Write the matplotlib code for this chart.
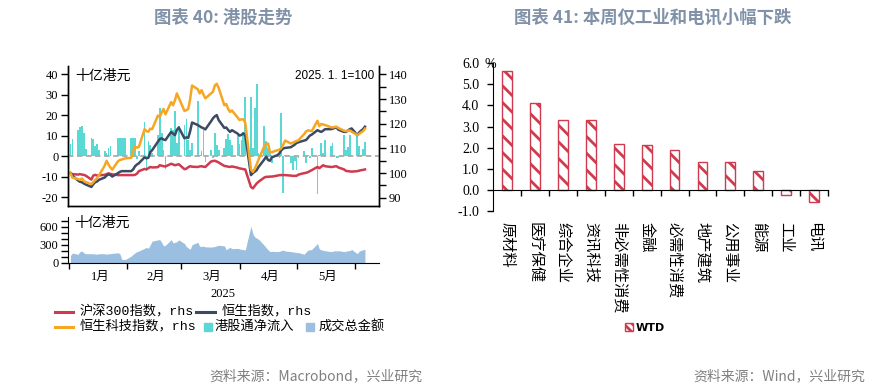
import matplotlib
matplotlib.use('Agg')
import matplotlib.pyplot as plt
import matplotlib.dates as mdates
from matplotlib.lines import Line2D
from matplotlib.patches import Rectangle, Patch
import pandas as pd

plt.rcParams['font.family'] = ['Liberation Serif', 'Noto Sans CJK SC']
plt.rcParams['axes.unicode_minus'] = False
plt.rcParams['hatch.linewidth'] = 2.0

RED = '#cf3a4f'
NAVY = '#3c4a64'
ORANGE = '#f5a623'
CYAN = '#5ad9d4'
AREA = '#9bbfe0'
TITLE_C = '#8091a8'
CJK = ['Noto Sans CJK SC', 'DejaVu Sans']
MONO_CJK = ['Liberation Mono', 'Noto Sans CJK SC']

# ---------------- data: 港股走势 ----------------
dates = pd.bdate_range('2025-01-02', '2025-06-06')

hs300 = [100.0, 99.6, 99.4, 99.6, 99.4, 99.3, 99.0, 97.4, 99.0, 99.3, 99.0, 99.1, 99.3, 99.6, 99.9, 99.7, 99.5, 99.2, 99.2, 99.2, 99.2, 99.2,
         99.2, 99.2, 99.3, 99.8, 100.8, 101.7, 101.5, 102.0, 102.5, 102.3, 102.4, 103.2, 103.0, 102.8, 102.7, 103.8, 103.5, 103.2, 103.4, 103.6,
         101.6, 101.8, 102.4, 102.8, 102.6, 102.5, 102.7, 102.8, 102.6, 102.5, 104.7, 104.9, 105.0, 104.7, 104.3, 102.9, 102.8, 102.6, 102.5, 102.7, 102.2,
         101.9, 101.8, 101.6, 101.5, 94.4, 93.8, 94.8, 95.8, 96.5, 98.2, 98.5, 98.5, 98.6, 98.6, 99.0, 99.2, 99.2, 99.2, 99.2, 99.0, 98.9, 98.9,
         98.9, 99.4, 100.0, 100.1, 100.4, 100.8, 101.2, 102.5, 102.0, 102.6, 103.2, 102.8, 102.5, 102.5, 102.7, 102.8, 102.3, 101.5, 100.9, 100.8, 100.7, 100.6,
         100.8, 101.0, 101.2, 101.3, 101.5]

hsi = [100.0, 99.0, 97.0, 96.5, 96.3, 95.8, 95.4, 94.4, 95.5, 96.3, 96.6, 97.3, 98.2, 99.0, 99.5, 99.3, 98.6, 100.0, 100.5, 100.8, 100.8, 100.8,
       100.8, 101.5, 102.8, 103.5, 104.0, 106.4, 106.0, 106.2, 108.5, 109.3, 112.7, 113.8, 114.1, 113.6, 113.4, 116.7, 116.0, 115.4, 117.5, 118.5,
       114.1, 114.5, 114.3, 117.0, 120.5, 119.5, 119.0, 118.5, 118.2, 117.7, 121.0, 122.2, 123.0, 123.5, 121.5, 118.3, 118.5, 117.5, 116.7, 117.4, 116.0,
       115.2, 115.5, 116.1, 115.3, 99.2, 100.0, 100.6, 101.2, 102.5, 105.5, 106.7, 105.3, 105.0, 106.4, 107.3, 108.0, 109.3, 110.0, 110.2, 110.5, 111.0, 111.5,
       112.2, 112.5, 113.2, 113.4, 114.3, 115.2, 115.6, 117.4, 117.0, 116.7, 117.2, 117.8, 117.8, 118.0, 118.3, 118.5, 117.6, 116.7, 116.7, 117.2, 117.8, 118.1,
       115.4, 116.5, 117.2, 117.8, 118.8]

hstech = [100.0, 98.2, 97.6, 97.3, 97.8, 96.8, 96.4, 95.5, 96.3, 97.2, 98.0, 99.1, 103.0, 105.0, 103.5, 102.3, 101.4, 104.8, 105.3, 105.5, 105.8, 106.0,
          106.2, 109.0, 110.8, 110.3, 110.6, 117.8, 117.0, 116.8, 118.0, 117.8, 123.3, 122.8, 124.5, 126.0, 123.8, 128.8, 127.5, 129.5, 132.3, 130.5,
          125.2, 125.5, 126.0, 130.0, 135.5, 134.0, 132.3, 133.6, 131.8, 130.3, 132.3, 133.0, 135.5, 136.2, 134.5, 127.5, 128.0, 126.0, 124.8, 125.4, 122.5,
          121.5, 121.8, 121.8, 120.4, 101.5, 100.5, 101.8, 103.5, 105.5, 110.8, 111.8, 112.0, 108.5, 108.5, 109.3, 109.5, 110.2, 111.5, 113.2, 112.0, 112.3, 112.7,
          113.0, 113.3, 115.8, 116.9, 117.3, 117.2, 117.0, 121.2, 119.0, 119.9, 119.7, 119.5, 118.6, 118.5, 118.7, 118.8, 118.3, 117.2, 117.0, 117.2, 117.3, 116.8,
          115.4, 115.9, 116.5, 117.0, 118.0]

# 港股通净流入, 十亿港元
inflow = [6.2, 8.5, 13.0, 14.3, 15.0, 11.4, 3.5, 9.0, 8.5, 5.0, 6.0, 3.2, 2.4, 1.5, 4.0, 4.8, 0.3, 9.0, 9.0, 9.0, 9.0, 9.0,
          9.0, 9.0, 9.0, -1.5, 2.4, 16.5, -7.0, 7.6, 5.4, 1.6, 10.6, 23.6, 11.4, 3.2, -6.0, 13.8, 13.0, 22.0, 6.5, 14.6,
          15.4, 18.0, 8.0, 3.2, 6.5, 26.8, 0.8, 2.4, 13.0, -2.8, 3.2, -0.8, 11.4, 5.7, 3.2, 4.0, 8.5, 11.0, 8.0, 5.4, 10.6,
          6.0, 8.0, 11.8, 28.8, 28.8, 4.0, 23.6, 35.3, 1.6, 15.0, 7.6, 4.0, 1.6, -3.3, 0.8, -0.8, 21.0, -17.9, 0.8, -3.3, -6.5, -2.4,
          -6.5, -0.8, 2.4, -3.3, 0.8, -0.8, 4.0, -18.4, 0.8, 6.5, 1.6, 8.0, 4.9, 6.5, 0.8, -0.8, -0.8, 10.6, 3.2, 4.4, 10.6, 0.8,
          9.8, 4.9, 0.8, 3.6, 7.0]

# 成交总金额, 十亿港元
turnover = [120, 160, 140, 185, 195, 165, 150, 150, 150, 145, 140, 150, 150, 140, 150, 150, 155, 165, 150, 55, 55, 55,
            110, 140, 165, 185, 195, 240, 255, 240, 300, 360, 380, 385, 340, 280, 290, 385, 330, 340, 350, 380,
            320, 270, 245, 225, 300, 340, 275, 270, 275, 265, 260, 265, 270, 280, 290, 280, 215, 240, 255, 235, 238,
            230, 222, 218, 212, 610, 480, 430, 410, 390, 290, 250, 215, 185, 190, 185, 190, 200, 210, 195, 185, 180, 175,
            170, 168, 140, 180, 210, 215, 220, 320, 230, 215, 205, 200, 185, 190, 200, 195, 200, 185, 190, 200, 200, 220,
            150, 195, 205, 215, 225]

month_labels = ['1月', '2月', '3月', '4月', '5月']

# ---------------- data: 行业周涨跌 ----------------
sectors = ['原材料', '医疗保健', '综合企业', '资讯科技', '非必需性消费', '金融',
           '必需性消费', '地产建筑', '公用事业', '能源', '工业', '电讯']
wtd = [5.65, 4.14, 3.33, 3.29, 2.19, 2.14, 1.87, 1.33, 1.33, 0.90, -0.24, -0.59]


def fx(x):
    return x / 892


def fy(y):
    return 1 - y / 390


fig = plt.figure(figsize=(8.92, 3.90), dpi=100)

# ---------- left top panel ----------
ax_l = fig.add_axes([fx(68), fy(205.7), fx(311), 139.7 / 390])
ax_r = ax_l.twinx()
d0 = mdates.date2num(pd.Timestamp('2025-01-01'))
xlim = (d0 - 0.3, d0 + 163.4)

ax_l.bar(dates, inflow, width=0.9, color=CYAN, zorder=2)
ax_l.axhline(0, color='#aaaaaa', lw=1.3, ls=(0, (3, 2)), zorder=3)
ax_l.set_ylim(-24.1, 44.05)
ax_l.set_yticks(range(-20, 41, 10))
ax_l.set_xlim(xlim)
ax_l.tick_params(axis='y', direction='out', length=5, width=1, labelsize=9, pad=2)
ax_l.tick_params(axis='x', bottom=False, labelbottom=False)

ax_r.plot(dates, hs300, color=RED, lw=1.8)
ax_r.plot(dates, hsi, color=NAVY, lw=1.8)
ax_r.plot(dates, hstech, color=ORANGE, lw=1.8)
ax_r.set_ylim(86.8, 143.4)
ax_r.set_yticks(range(90, 141, 10))
ax_r.set_yticks(range(95, 140, 10), minor=True)
ax_r.tick_params(axis='y', which='both', direction='out', length=5, width=1, labelsize=9, pad=2)
ax_r.set_xlim(xlim)

for a in (ax_l, ax_r):
    a.spines['top'].set_visible(False)
    for s in ('left', 'right', 'bottom'):
        a.spines[s].set_linewidth(1.0)

ax_r.text(0.022, 0.93, '十亿港元', transform=ax_r.transAxes, fontsize=10,
          family=CJK, va='center', ha='left')
ax_r.text(0.985, 0.93, '2025. 1. 1=100', transform=ax_r.transAxes, fontsize=8.5,
          family=['Liberation Sans'], va='center', ha='right')

# ---------- left bottom panel ----------
ax_b = fig.add_axes([fx(68), fy(262.7), fx(311), 45.6 / 390])
ax_b.fill_between(dates, 0, turnover, color=AREA, lw=0)
ax_b.set_ylim(0, 760)
ax_b.set_xlim(xlim)
ax_b.set_yticks([0, 300, 600])
ax_b.set_yticks(range(100, 701, 100), minor=True)
ax_b.tick_params(axis='y', which='both', direction='out', length=5, width=1, labelsize=9, pad=2)
ax_b.spines['top'].set_visible(False)
ax_b.spines['right'].set_visible(False)

month_starts = pd.to_datetime(['2025-01-01', '2025-02-01', '2025-03-01',
                               '2025-04-01', '2025-05-01', '2025-06-01'])
ax_b.set_xticks(month_starts)
ax_b.set_xticklabels([])
mids = month_starts[:-1] + (month_starts[1:] - month_starts[:-1]) / 2 + pd.Timedelta(days=1)
ax_b.set_xticks(mids, minor=True)
ax_b.set_xticklabels(month_labels, minor=True, fontsize=9)
ax_b.tick_params(axis='x', which='major', direction='out', length=4, width=1)
ax_b.tick_params(axis='x', which='minor', length=0, pad=6)
ax_b.text(0.02, 0.88, '十亿港元', transform=ax_b.transAxes, fontsize=10,
          family=CJK, va='center', ha='left')

fig.text(fx(223), fy(294), '2025', ha='center', va='center', fontsize=9)

# legend, drawn by hand to follow the flowing layout
leg_kw = dict(va='center', fontsize=9.5, family=MONO_CJK)
fig.add_artist(Line2D([fx(55), fx(73)], [fy(311.7)] * 2, color=RED, lw=2.2))
fig.text(fx(80), fy(311.7), '沪深300指数，rhs', **leg_kw)
fig.add_artist(Line2D([fx(196), fx(215)], [fy(311.7)] * 2, color=NAVY, lw=2.2))
fig.text(fx(222), fy(311.7), '恒生指数，rhs', **leg_kw)
fig.add_artist(Line2D([fx(55), fx(73)], [fy(326.7)] * 2, color=ORANGE, lw=2.2))
fig.text(fx(80), fy(326.7), '恒生科技指数，rhs', **leg_kw)
fig.add_artist(Rectangle((fx(204), fy(331)), fx(8), 8 / 390, color=CYAN))
fig.text(fx(215), fy(326.7), '港股通净流入', **leg_kw)
fig.add_artist(Rectangle((fx(306), fy(331)), fx(8), 8 / 390, color=AREA))
fig.text(fx(319), fy(326.7), '成交总金额', **leg_kw)

# ---------- right chart ----------
ax2 = fig.add_axes([fx(493.3), fy(211), fx(334.7), 147.7 / 390])
xs = range(len(sectors))
ax2.bar(xs, wtd, width=0.35, color='white', edgecolor=RED, hatch='\\\\', lw=1.0)
ax2.set_xlim(-0.5, len(sectors) - 0.5)
ax2.set_ylim(-1.0, 6.0)
ax2.set_yticks(range(-1, 7))
ax2.set_yticklabels([f'{v:.1f}' for v in range(-1, 7)])
ax2.tick_params(axis='y', direction='out', length=4, width=1, labelsize=10, pad=6)
ax2.spines['top'].set_visible(False)
ax2.spines['right'].set_visible(False)
ax2.spines['bottom'].set_position(('data', 0))
ax2.set_xticks([i + 0.5 for i in range(len(sectors))])
ax2.set_xticklabels([])
ax2.tick_params(axis='x', direction='out', length=4, width=1)
ax2.text(-0.009, 0.995, '%', transform=ax2.transAxes, ha='center', va='center', fontsize=10)
for i, name in enumerate(sectors):
    ax2.text(i, -0.072, name, transform=ax2.get_xaxis_transform(), rotation=270,
             ha='center', va='top', fontsize=11, family=CJK)

fig.legend(handles=[Patch(facecolor='white', edgecolor=RED, hatch='\\\\\\\\', lw=1.0)],
           labels=['WTD'], loc='center', bbox_to_anchor=(fx(645), fy(328)),
           frameon=False, handlelength=0.7, handleheight=0.7, handletextpad=0.3,
           prop={'family': 'DejaVu Sans', 'size': 8, 'weight': 'bold'})

# ---------- titles & sources ----------
fig.text(fx(223), fy(18), '图表 40: 港股走势', ha='center', va='center',
         fontsize=12.5, fontweight='bold', color=TITLE_C, family=CJK)
fig.text(fx(653), fy(18), '图表 41: 本周仅工业和电讯小幅下跌', ha='center', va='center',
         fontsize=12.5, fontweight='bold', color=TITLE_C, family=CJK)
fig.text(fx(209), fy(376), '资料来源：Macrobond，兴业研究', ha='left', va='center',
         fontsize=10, color='#808080', family=CJK)
fig.text(fx(865), fy(376), '资料来源：Wind，兴业研究', ha='right', va='center',
         fontsize=10, color='#808080', family=CJK)

fig.savefig('out.png', dpi=100)
